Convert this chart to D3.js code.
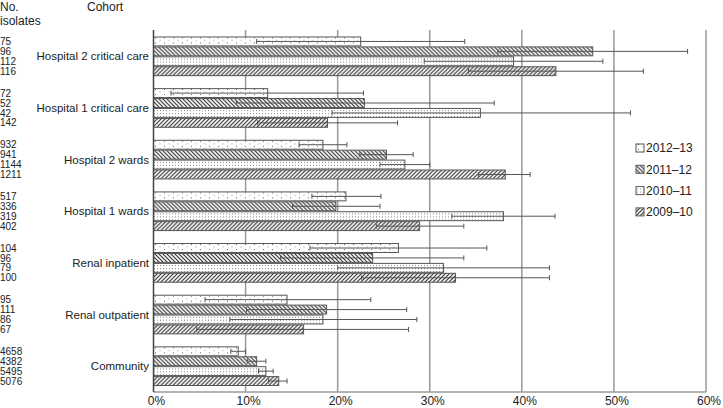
<!DOCTYPE html>
<html><head><meta charset="utf-8">
<script src="https://cdn.jsdelivr.net/npm/d3@7"></script>
<style>body{margin:0;background:#fff}svg{display:block}text{font-family:"Liberation Sans",Arial,sans-serif;fill:#222}</style>
</head><body><svg id="c" width="723" height="408"></svg>
<script>
const categories = ["Hospital 2 critical care","Hospital 1 critical care","Hospital 2 wards","Hospital 1 wards","Renal inpatient","Renal outpatient","Community"];
const seriesNames = ["2012–13","2011–12","2010–11","2009–10"];
// values per series (%), same order as categories
const val2012 = [22.5,12.4,18.4,20.9,26.6,14.5,9.2];
const val2011 = [47.7,22.9,25.3,19.8,23.8,18.8,11.2];
const val2010 = [39.1,35.5,27.3,38.0,31.5,18.4,12.2];
const val2009 = [43.7,18.9,38.2,28.9,32.8,16.3,13.6];
const lo2012 = [11.2,1.9,15.8,17.2,17.0,5.6,8.4];
const hi2012 = [33.8,22.8,21.0,24.7,36.2,23.6,10.0];
const lo2011 = [37.4,9.0,22.4,15.1,13.8,10.1,10.2];
const hi2011 = [58.0,37.0,28.2,24.6,33.7,27.5,12.2];
const lo2010 = [29.4,19.4,24.6,32.4,20.0,8.3,11.4];
const hi2010 = [48.8,51.8,30.0,43.6,43.0,28.6,13.0];
const lo2009 = [34.2,11.3,35.3,24.2,22.6,4.7,12.5];
const hi2009 = [53.2,26.5,40.9,33.7,43.0,27.7,14.5];
const isolates = [[75,96,112,116],[72,52,42,142],[932,941,1144,1211],[517,336,319,402],[104,96,79,100],[95,111,86,67],[4658,4382,5495,5076]];
const xTicks = [0,10,20,30,40,50,60];

const values = [val2012,val2011,val2010,val2009];
const lows = [lo2012,lo2011,lo2010,lo2009];
const highs = [hi2012,hi2011,hi2010,hi2009];
const patIds = ["p12","p11","p10","p09"];

const svg = d3.select("#c");
const defs = svg.append("defs");
// sparse dots
let p = defs.append("pattern").attr("id","p12").attr("patternUnits","userSpaceOnUse").attr("width",9).attr("height",5);
p.append("rect").attr("width",9).attr("height",5).attr("fill","#fff");
p.append("rect").attr("x",2).attr("y",1).attr("width",1).attr("height",1).attr("fill","#666");
p.append("rect").attr("x",6.5).attr("y",3.5).attr("width",1).attr("height",1).attr("fill","#999");
// back hatch
p = defs.append("pattern").attr("id","p11").attr("patternUnits","userSpaceOnUse").attr("width",4).attr("height",4);
p.append("rect").attr("width",4).attr("height",4).attr("fill","#fff");
p.append("path").attr("d","M-1,3 l2,2 M0,0 l4,4 M3,-1 l2,2").attr("stroke","#333").attr("stroke-width",1.2);
// dense dots
p = defs.append("pattern").attr("id","p10").attr("patternUnits","userSpaceOnUse").attr("width",3).attr("height",3);
p.append("rect").attr("width",3).attr("height",3).attr("fill","#fff");
p.append("rect").attr("x",1).attr("y",1).attr("width",1).attr("height",1).attr("fill","#888");
// forward hatch
p = defs.append("pattern").attr("id","p09").attr("patternUnits","userSpaceOnUse").attr("width",4).attr("height",4);
p.append("rect").attr("width",4).attr("height",4).attr("fill","#fff");
p.append("path").attr("d","M-1,1 l2,-2 M0,4 l4,-4 M3,5 l2,-2").attr("stroke","#333").attr("stroke-width",1.2);

const x = d3.scaleLinear().domain([0,60]).range([153.5,706]);
const y0 = d3.scaleBand().domain(categories).range([30.5,392]).paddingInner(0.232).paddingOuter(0.116);
const y1 = d3.scaleBand().domain(seriesNames).range([0,y0.bandwidth()]);

// gridlines
svg.append("g").selectAll("line").data(xTicks.slice(1)).join("line")
  .attr("x1",d=>x(d)).attr("x2",d=>x(d)).attr("y1",30).attr("y2",392)
  .attr("stroke","#999").attr("stroke-width",1.5);
// bottom axis line
svg.append("line").attr("x1",x(0)).attr("x2",x(60)).attr("y1",392).attr("y2",392).attr("stroke","#999").attr("stroke-width",1.5);

// bars
const groups = svg.append("g").selectAll("g").data(categories).join("g")
  .attr("transform",d=>`translate(0,${y0(d)})`);
seriesNames.forEach((s,si)=>{
  groups.append("rect")
    .attr("x",x(0)).attr("y",y1(s)+0.5)
    .attr("width",(d,ci)=>x(values[si][ci])-x(0)).attr("height",y1.bandwidth()-1)
    .attr("fill",`url(#${patIds[si]})`).attr("stroke","#555").attr("stroke-width",1);
});
// error bars
seriesNames.forEach((s,si)=>{
  const cy = y1(s)+y1.bandwidth()/2;
  groups.append("line").attr("x1",(d,ci)=>x(lows[si][ci])).attr("x2",(d,ci)=>x(highs[si][ci]))
    .attr("y1",cy).attr("y2",cy).attr("stroke","#555").attr("stroke-width",1);
  groups.append("line").attr("x1",(d,ci)=>x(lows[si][ci])).attr("x2",(d,ci)=>x(lows[si][ci]))
    .attr("y1",cy-2.5).attr("y2",cy+2.5).attr("stroke","#555").attr("stroke-width",1);
  groups.append("line").attr("x1",(d,ci)=>x(highs[si][ci])).attr("x2",(d,ci)=>x(highs[si][ci]))
    .attr("y1",cy-2.5).attr("y2",cy+2.5).attr("stroke","#555").attr("stroke-width",1);
});

// y axis line
svg.append("line").attr("x1",x(0)).attr("x2",x(0)).attr("y1",30).attr("y2",392).attr("stroke","#444").attr("stroke-width",1.5);

// category labels
groups.append("text").attr("x",149).attr("y",y0.bandwidth()/2).attr("dy","0.35em")
  .attr("text-anchor","end").attr("font-size",11.5).text(d=>d);
// isolate numbers
groups.each(function(d,ci){
  d3.select(this).selectAll("text.n").data(isolates[ci]).join("text").attr("class","n")
    .attr("x",0).attr("y",(v,i)=>y1(seriesNames[i])+y1.bandwidth()/2).attr("dy","0.36em")
    .attr("font-size",10).text(v=>v);
});

// x tick labels
svg.append("g").selectAll("text").data(xTicks).join("text")
  .attr("x",d=>x(d)+3).attr("y",405).attr("text-anchor","middle").attr("font-size",12).text(d=>d+"%");

// headers
svg.append("text").attr("x",0).attr("y",11).attr("font-size",12).text("No.");
svg.append("text").attr("x",0).attr("y",24.5).attr("font-size",12).text("isolates");
svg.append("text").attr("x",87).attr("y",11).attr("font-size",12).text("Cohort");

// legend
const lg = svg.append("g").selectAll("g").data(seriesNames).join("g")
  .attr("transform",(d,i)=>`translate(636,${148+i*21.3})`);
lg.append("rect").attr("x",0).attr("y",-4).attr("width",8).attr("height",8)
  .attr("fill",(d,i)=>`url(#${patIds[i]})`).attr("stroke","#555").attr("stroke-width",1);
lg.append("text").attr("x",10).attr("y",0).attr("dy","0.36em").attr("font-size",12).text(d=>d);
</script></body></html>
